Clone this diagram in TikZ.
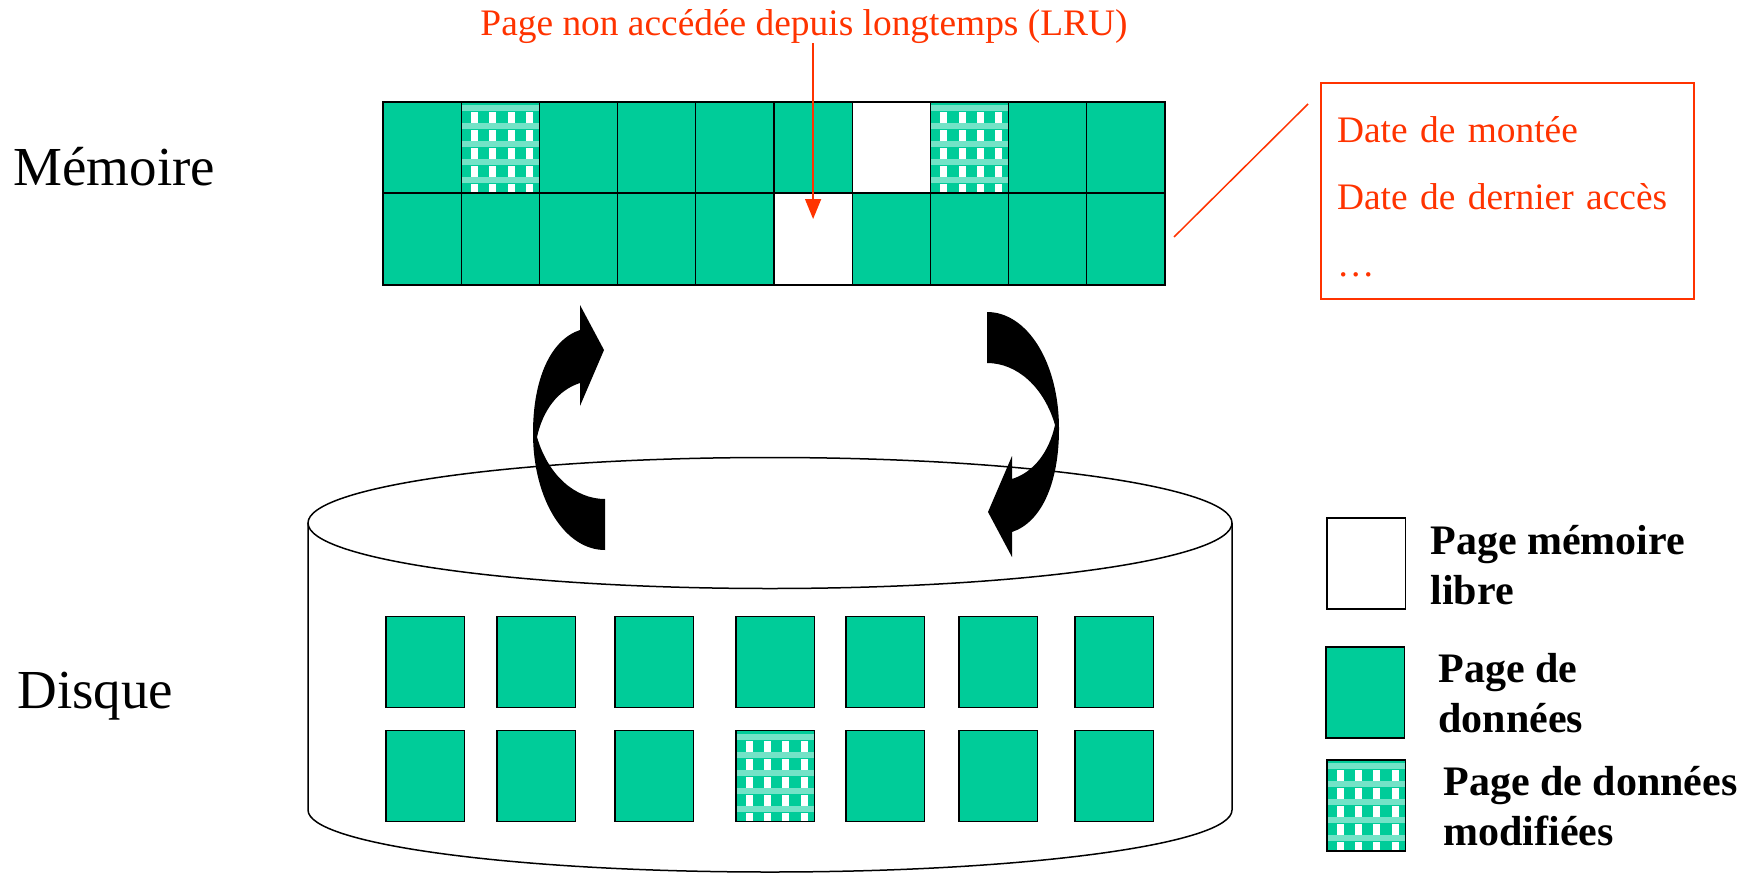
\documentclass[tikz,border=0pt]{standalone}
\usepackage{fontspec}
\setmainfont{Liberation Serif}
\usetikzlibrary{arrows.meta,calc,positioning}
\definecolor{memvert}{RGB}{0,204,153}
\definecolor{memrouge}{RGB}{255,51,0}

\tikzset{
  demitour/.pic={
    \fill (-191,119) -- (-191,68)
      .. controls (-221,68) and (-248,44) .. (-259,6)
      .. controls (-253,-21) and (-238,-41) .. (-216,-48)
      -- (-216,-25) -- (-192,-81) -- (-216,-126) -- (-216,-101)
      .. controls (-246,-91) and (-263,-51) .. (-263,2)
      .. controls (-263,69) and (-231,119) .. (-191,119) -- cycle;
  }
}

\begin{document}
\begin{tikzpicture}[x=0.5pt, y=-0.5pt,
    page/.style={draw, line width=0.6pt, minimum width=39.1pt, minimum height=45.5pt, inner sep=0pt, outer sep=0pt},
    donnee/.style={fill=memvert},
    libre/.style={fill=white},
    modif/.style={fill=memvert, path picture={
        \foreach \j in {0,...,4} {
          \fill[memvert!55] ([yshift={-1.5pt-9pt*\j}]path picture bounding box.north west) rectangle ++(40pt,-3pt);
          \foreach \i in {0,...,3}
            \fill[white] ([xshift={5pt+9.1pt*\i}, yshift={-5pt-9pt*\j}]path picture bounding box.north west) rectangle ++(3.5pt,-5.5pt);
        }}},
    titre/.style={text=memrouge, font=\fontsize{18.7}{22}\selectfont, inner sep=0pt},
    legende/.style={font=\bfseries\fontsize{21}{25}\selectfont, align=left, inner sep=0pt},
    grand/.style={font=\fontsize{27.5}{33}\selectfont, inner sep=0pt},
    lru/.style={draw=memrouge, line width=0.75pt, -{Triangle[length=10pt,width=8pt]}, shorten >=10pt}
  ]
  \useasboundingbox (0,0) rectangle (1745,873);

  % disque
  \draw[line width=0.75pt] (308,523) -- (308,810) arc[start angle=180, end angle=0, x radius=462, y radius=62] -- (1232,523);
  \draw[line width=0.75pt] (770,523) ellipse [x radius=462, y radius=65.5];
  \foreach \x [count=\c] in {425,536,654,775,885,998,1114}
    \node[page,donnee] (d1-\c) at (\x,662) {};
  \foreach \x/\t [count=\c] in {425/donnee,536/donnee,654/donnee,775/modif,885/donnee,998/donnee,1114/donnee}
    \node[page,\t] (d2-\c) at (\x,776) {};

  % echanges memoire <-> disque
  \pic at (796,431) {demitour};
  \pic[rotate=180] at (796,431) {demitour};

  % memoire
  \foreach \t [count=\c] in {donnee,modif,donnee,donnee,donnee,donnee,libre,modif,donnee,donnee}
    \node[page,\t] (m1-\c) at ({383+78.2*(\c-0.5)},147.5) {};
  \foreach \t [count=\c] in {donnee,donnee,donnee,donnee,donnee,libre,donnee,donnee,donnee,donnee}
    \node[page,\t] (m2-\c) at ({383+78.2*(\c-0.5)},239) {};
  \draw[line width=1pt] (m1-1.north west) rectangle (m2-10.south east);

  \node[grand, anchor=base west] (memoire) at (13,185) {Mémoire};
  \node[grand, anchor=base west] (disque) at (17,708) {Disque};

  \node[titre, anchor=base] (lrutxt) at (804,35) {Page non accédée depuis longtemps (LRU)};
  \draw[lru] (lrutxt.south -| m2-6.center) -- (m2-6.center);

  % infos de page
  \node[draw=memrouge, line width=0.75pt, text=memrouge, font=\fontsize{18.7}{33.5}\selectfont,
        text width=170.5pt, inner xsep=8pt, inner ysep=0pt, minimum height=108pt, align=left]
        (infos) at (1507.5,191) {\rule{0pt}{18.4pt}Date de montée\\Date de dernier accès\\…};
  \coordinate (lienA) at (1174,237);
  \coordinate (lienB) at (1308,104);
  \draw[memrouge, line width=0.75pt] (lienA) -- (lienB);

  % legende
  \node[page,libre] (lglibre) at (1366,563.5) {};
  \node[page,donnee] (lgdonnee) at (1365,692.5) {};
  \node[page,modif] (lgmodif) at (1366,805.5) {};
  \node[legende, anchor=base west] (txlibre) at (1430,604) {Page mémoire\\libre};
  \node[legende, anchor=base west] (txdonnee) at (1438,732) {Page de\\données};
  \node[legende, anchor=base west] (txmodif) at (1443,845) {Page de données\\modifiées};
\end{tikzpicture}
\end{document}
